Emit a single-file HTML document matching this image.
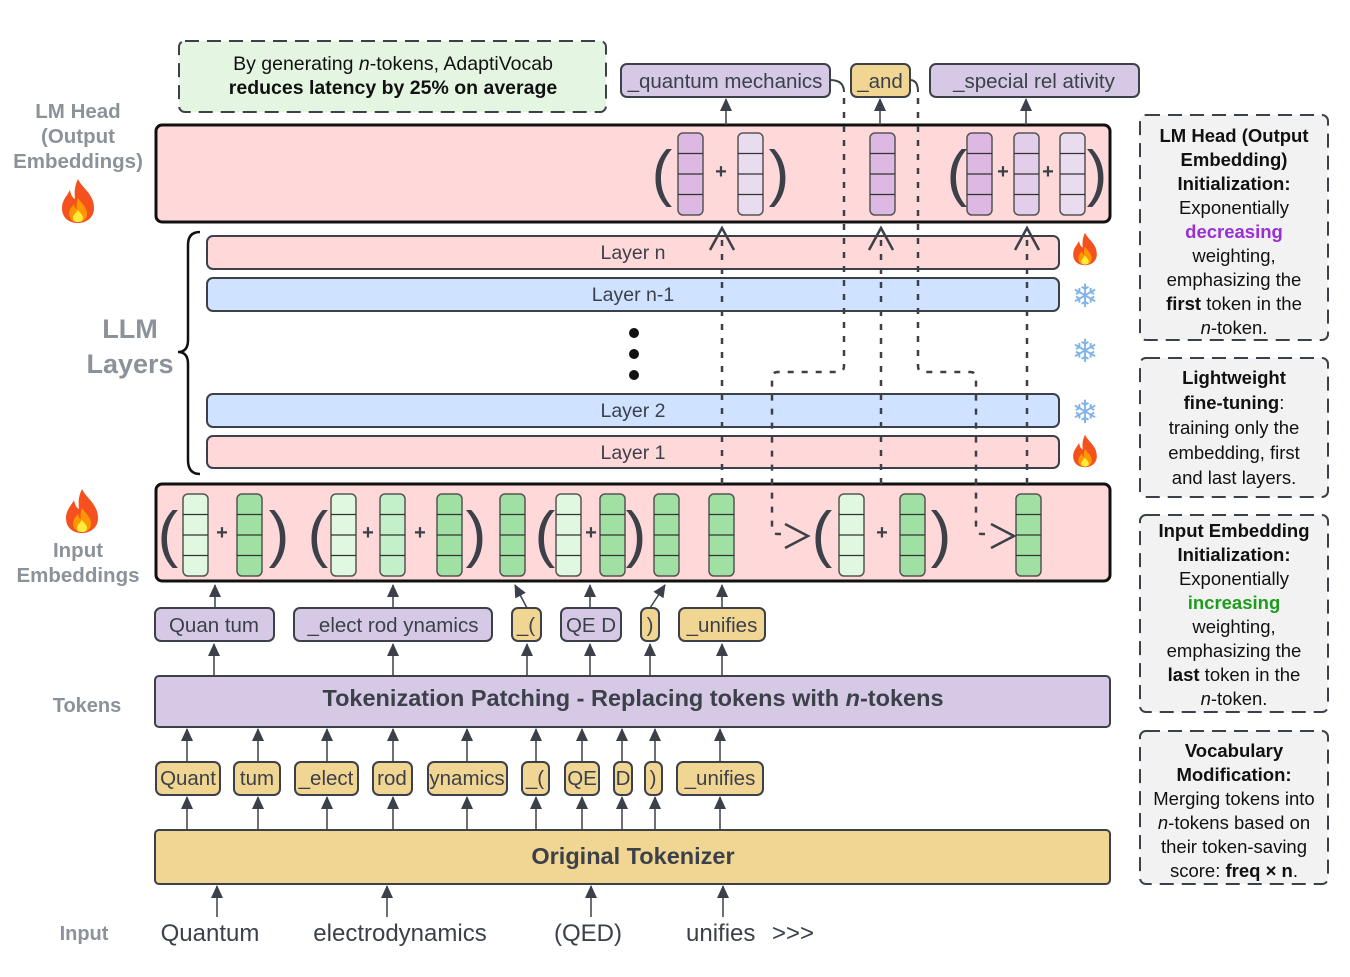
<!DOCTYPE html>
<html><head><meta charset="utf-8">
<style>
html,body{margin:0;padding:0;background:#fff;}
svg{display:block;font-family:"Liberation Sans",Arial,sans-serif;}
.bx{stroke:#3b4049;stroke-width:2;}
.lbl{fill:#8c9299;font-weight:bold;}
.t{fill:#3b4049;}
.ar{stroke:#3b4049;stroke-width:1.5;fill:none;}
.dash{stroke:#3b4049;stroke-width:2.5;fill:none;stroke-dasharray:6,8;}
.par{font-size:62px;fill:#3b4049;}
.plus{font-size:20px;font-weight:bold;fill:#3b4049;}
.side{font-size:18.5px;fill:#111;}
</style></head>
<body>
<svg id="s" width="1350" height="977" viewBox="0 0 1350 977" xmlns="http://www.w3.org/2000/svg">
<defs>
<marker id="ah" markerWidth="13" markerHeight="12" refX="12" refY="6" orient="auto" markerUnits="userSpaceOnUse" viewBox="0 0 13 12">
<path d="M0,0 L13,6 L0,12 Z" fill="#3b4049"/>
</marker>
<symbol id="flame" viewBox="0 0 40 46">
<path d="M20,1 C24,10 36,16 36,30 C36,40 28,45 20,45 C11,45 4,40 4,30 C4,22 9,18 12,12 C13,18 15,20 17,21 C16,13 17,7 20,1 Z" fill="#f4511e"/>
<path d="M20,20 C24,26 29,29 29,36 C29,41 25,44 20,44 C15,44 11,41 11,36 C11,31 14,29 16,26 C17,30 18,31 19,31 C18,27 19,23 20,20 Z" fill="#ff9800"/>
<path d="M20,32 C22,35 25,37 25,40 C25,43 23,44 20,44 C17,44 15,43 15,40 C15,37 18,35 20,32 Z" fill="#ffeb3b"/>
</symbol>
</defs>

<rect x="179" y="41" width="427" height="71" rx="6" fill="#e4f6e2" stroke="#3b4049" stroke-width="2" stroke-dasharray="14,8"/>
<text x="393" y="70" text-anchor="middle" font-size="19.5" fill="#111">By generating <tspan font-style="italic">n</tspan>-tokens, AdaptiVocab</text>
<text x="393" y="94" text-anchor="middle" font-size="19.5" font-weight="bold" fill="#111">reduces latency by 25% on average</text>

<g>
<rect class="bx" x="621" y="64" width="209" height="33" rx="6" fill="#d5c9e6"/>
<text class="t" x="725" y="88" text-anchor="middle" font-size="20.5">_quantum mechanics</text>
<rect class="bx" x="851" y="64" width="59" height="33" rx="6" fill="#f1d593"/>
<text class="t" x="880" y="88" text-anchor="middle" font-size="20.5">_and</text>
<rect class="bx" x="930" y="64" width="209" height="33" rx="6" fill="#d5c9e6"/>
<text class="t" x="1034" y="88" text-anchor="middle" font-size="20.5">_special rel ativity</text>
</g>

<text class="lbl" font-size="20.5" text-anchor="middle"><tspan x="78" y="118">LM Head</tspan><tspan x="78" y="143">(Output</tspan><tspan x="78" y="168">Embeddings)</tspan></text>
<use href="#flame" x="58" y="178" width="40" height="46"/>
<text class="lbl" font-size="27" text-anchor="middle"><tspan x="130" y="338">LLM</tspan><tspan x="130" y="373">Layers</tspan></text>
<path d="M200,232 Q188,232 188,245 L188,340 Q188,352 178,352 Q188,352 188,364 L188,460 Q188,474 200,474" fill="none" stroke="#111" stroke-width="2.5"/>
<use href="#flame" x="62" y="488" width="40" height="46"/>
<text class="lbl" font-size="20.5" text-anchor="middle"><tspan x="78" y="557">Input</tspan><tspan x="78" y="582">Embeddings</tspan></text>
<text class="lbl" font-size="20" x="87" y="712" text-anchor="middle">Tokens</text>
<text class="lbl" font-size="20" x="84" y="940" text-anchor="middle">Input</text>

<rect x="156" y="125" width="954" height="97" rx="6" fill="#ffd9d9" stroke="#111" stroke-width="3"/>

<g>
<rect class="bx" x="207" y="236" width="852" height="33" rx="6" fill="#ffd9d9"/>
<text class="t" x="633" y="259" text-anchor="middle" font-size="19.5">Layer n</text>
<rect class="bx" x="207" y="278" width="852" height="33" rx="6" fill="#cfe2ff"/>
<text class="t" x="633" y="301" text-anchor="middle" font-size="19.5">Layer n-1</text>
<circle cx="634" cy="333" r="5" fill="#111"/><circle cx="634" cy="354" r="5" fill="#111"/><circle cx="634" cy="375" r="5" fill="#111"/>
<rect class="bx" x="207" y="394" width="852" height="33" rx="6" fill="#cfe2ff"/>
<text class="t" x="633" y="417" text-anchor="middle" font-size="19.5">Layer 2</text>
<rect class="bx" x="207" y="436" width="852" height="32" rx="6" fill="#ffd9d9"/>
<text class="t" x="633" y="459" text-anchor="middle" font-size="19.5">Layer 1</text>
</g>
<use href="#flame" x="1070" y="232" width="30" height="34"/>
<use href="#flame" x="1070" y="434" width="30" height="34"/>
<g font-size="32" fill="#7fb3ea" text-anchor="middle">
<text x="1085" y="307">❄</text><text x="1085" y="362">❄</text><text x="1085" y="423">❄</text>
</g>

<rect x="156" y="484" width="954" height="97" rx="6" fill="#ffd9d9" stroke="#111" stroke-width="3"/>

<g id="vecs"></g>

<g>
<path class="dash" d="M722,484 V238"/>
<path class="dash" d="M881,484 V238"/>
<path class="dash" d="M1027,484 V238"/>
<path class="dash" d="M844,98 V366 Q844,372 838,372 H778 Q772,372 772,378 V528 Q772,534 778,534 H784"/>
<path class="dash" d="M918,98 V366 Q918,372 924,372 H970 Q976,372 976,378 V528 Q976,534 982,534 H990"/>
<path d="M830,80 Q844,80 844,92 M910,80 Q918,80 918,92" stroke="#3b4049" stroke-width="2" fill="none"/>
</g>
<g stroke="#3b4049" stroke-width="2.5" fill="none">
<path d="M785,524 L808,536 L785,548"/>
<path d="M991,524 L1014,536 L991,548"/>
</g>
<g stroke="#3b4049" stroke-width="2.5" fill="none">
<path d="M710,250 L722,228 L734,250"/>
<path d="M869,250 L881,228 L893,250"/>
<path d="M1015,250 L1027,228 L1039,250"/>
</g>

<g font-size="20.5">
<rect class="bx" x="155" y="608" width="119" height="33" rx="6" fill="#d5c9e6"/><text class="t" x="214" y="632" text-anchor="middle">Quan tum</text>
<rect class="bx" x="294" y="608" width="198" height="33" rx="6" fill="#d5c9e6"/><text class="t" x="393" y="632" text-anchor="middle">_elect rod ynamics</text>
<rect class="bx" x="512" y="608" width="29" height="33" rx="6" fill="#f1d593"/><text class="t" x="526" y="632" text-anchor="middle">_(</text>
<rect class="bx" x="561" y="608" width="60" height="33" rx="6" fill="#d5c9e6"/><text class="t" x="591" y="632" text-anchor="middle">QE D</text>
<rect class="bx" x="641" y="608" width="18" height="33" rx="6" fill="#f1d593"/><text class="t" x="650" y="632" text-anchor="middle">)</text>
<rect class="bx" x="679" y="608" width="86" height="33" rx="6" fill="#f1d593"/><text class="t" x="722" y="632" text-anchor="middle">_unifies</text>
</g>

<rect x="155" y="676" width="955" height="51" rx="4" fill="#d5c9e6" stroke="#3b4049" stroke-width="2"/>
<text x="633" y="706" text-anchor="middle" font-size="23.5" font-weight="bold" fill="#3b4049">Tokenization Patching - Replacing tokens with <tspan font-style="italic">n</tspan>-tokens</text>

<g font-size="20.5">
<rect class="bx" x="156" y="762" width="64" height="33" rx="6" fill="#f1d593"/><text class="t" x="188" y="785" text-anchor="middle">Quant</text>
<rect class="bx" x="234" y="762" width="46" height="33" rx="6" fill="#f1d593"/><text class="t" x="257" y="785" text-anchor="middle">tum</text>
<rect class="bx" x="295" y="762" width="63" height="33" rx="6" fill="#f1d593"/><text class="t" x="326" y="785" text-anchor="middle">_elect</text>
<rect class="bx" x="373" y="762" width="39" height="33" rx="6" fill="#f1d593"/><text class="t" x="392" y="785" text-anchor="middle">rod</text>
<rect class="bx" x="428" y="762" width="79" height="33" rx="6" fill="#f1d593"/><text class="t" x="467" y="785" text-anchor="middle">ynamics</text>
<rect class="bx" x="522" y="762" width="27" height="33" rx="6" fill="#f1d593"/><text class="t" x="535" y="785" text-anchor="middle">_(</text>
<rect class="bx" x="565" y="762" width="34" height="33" rx="6" fill="#f1d593"/><text class="t" x="582" y="785" text-anchor="middle">QE</text>
<rect class="bx" x="614" y="762" width="18" height="33" rx="6" fill="#f1d593"/><text class="t" x="623" y="785" text-anchor="middle">D</text>
<rect class="bx" x="645" y="762" width="17" height="33" rx="6" fill="#f1d593"/><text class="t" x="653" y="785" text-anchor="middle">)</text>
<rect class="bx" x="677" y="762" width="86" height="33" rx="6" fill="#f1d593"/><text class="t" x="720" y="785" text-anchor="middle">_unifies</text>
</g>

<rect x="155" y="830" width="955" height="54" rx="4" fill="#f1d593" stroke="#3b4049" stroke-width="2"/>
<text x="633" y="864" text-anchor="middle" font-size="23.5" font-weight="bold" fill="#3b4049">Original Tokenizer</text>

<g font-size="24" fill="#3b4049">
<text x="210" y="941" text-anchor="middle">Quantum</text>
<text x="400" y="941" text-anchor="middle">electrodynamics</text>
<text x="588" y="941" text-anchor="middle">(QED)</text>
<text x="686" y="941">unifies <tspan x="772">&gt;&gt;&gt;</tspan></text>
</g>

<g id="arrows"></g>

<g>
<rect x="1140" y="115" width="188" height="225" rx="6" fill="#f2f2f2" stroke="#3b4049" stroke-width="2" stroke-dasharray="14,8"/>
<text class="side" text-anchor="middle"><tspan x="1234" y="142" font-weight="bold">LM Head (Output</tspan><tspan x="1234" y="166" font-weight="bold">Embedding)</tspan><tspan x="1234" y="190" font-weight="bold">Initialization:</tspan><tspan x="1234" y="214">Exponentially</tspan><tspan x="1234" y="238" font-weight="bold" fill="#9a2fd6">decreasing</tspan><tspan x="1234" y="262">weighting,</tspan><tspan x="1234" y="286">emphasizing the</tspan><tspan x="1234" y="310"><tspan font-weight="bold">first</tspan> token in the</tspan><tspan x="1234" y="334"><tspan font-style="italic">n</tspan>-token.</tspan></text>
<rect x="1140" y="358" width="188" height="139" rx="6" fill="#f2f2f2" stroke="#3b4049" stroke-width="2" stroke-dasharray="14,8"/>
<text class="side" text-anchor="middle"><tspan x="1234" y="384" font-weight="bold">Lightweight</tspan><tspan x="1234" y="409"><tspan font-weight="bold">fine-tuning</tspan>:</tspan><tspan x="1234" y="434">training only the</tspan><tspan x="1234" y="459">embedding, first</tspan><tspan x="1234" y="484">and last layers.</tspan></text>
<rect x="1140" y="515" width="188" height="197" rx="6" fill="#f2f2f2" stroke="#3b4049" stroke-width="2" stroke-dasharray="14,8"/>
<text class="side" text-anchor="middle"><tspan x="1234" y="537" font-weight="bold">Input Embedding</tspan><tspan x="1234" y="561" font-weight="bold">Initialization:</tspan><tspan x="1234" y="585">Exponentially</tspan><tspan x="1234" y="609" font-weight="bold" fill="#1e9c1e">increasing</tspan><tspan x="1234" y="633">weighting,</tspan><tspan x="1234" y="657">emphasizing the</tspan><tspan x="1234" y="681"><tspan font-weight="bold">last</tspan> token in the</tspan><tspan x="1234" y="705"><tspan font-style="italic">n</tspan>-token.</tspan></text>
<rect x="1140" y="731" width="188" height="153" rx="6" fill="#f2f2f2" stroke="#3b4049" stroke-width="2" stroke-dasharray="14,8"/>
<text class="side" text-anchor="middle"><tspan x="1234" y="757" font-weight="bold">Vocabulary</tspan><tspan x="1234" y="781" font-weight="bold">Modification:</tspan><tspan x="1234" y="805">Merging tokens into</tspan><tspan x="1234" y="829"><tspan font-style="italic">n</tspan>-tokens based on</tspan><tspan x="1234" y="853">their token-saving</tspan><tspan x="1234" y="877">score: <tspan font-weight="bold">freq × n</tspan>.</tspan></text>
</g>
</svg>
<script>
var NS="http://www.w3.org/2000/svg";
var vecs=document.getElementById('vecs');
function vec(x,y,fill){
  var g=document.createElementNS(NS,'g');
  
  
  var r=document.createElementNS(NS,'rect');
  r.setAttribute('x',x);r.setAttribute('y',y);r.setAttribute('width',25);r.setAttribute('height',82);
  r.setAttribute('rx',5);r.setAttribute('fill',fill);r.setAttribute('stroke','#555');r.setAttribute('stroke-width','1.5');
  g.appendChild(r);
  for(var i=1;i<4;i++){var l=document.createElementNS(NS,'line');
    l.setAttribute('x1',x);l.setAttribute('x2',x+25);l.setAttribute('y1',y+i*20.5);l.setAttribute('y2',y+i*20.5);
    l.setAttribute('stroke','#333');l.setAttribute('stroke-width','1.3');g.appendChild(l);}
  vecs.appendChild(g);
}
function txt(x,y,s,cls){
  var t=document.createElementNS(NS,'text');
  
  
  t.setAttribute('x',x);t.setAttribute('y',y);t.setAttribute('class',cls);t.setAttribute('text-anchor','middle');
  t.textContent=s;vecs.appendChild(t);
}
var P1='#dcb8e3',P2='#e2cdea',P3='#eadcef',G1='#e0f7e0',G2='#c3f0c8',G3='#a0e0a2';
[[678,P1],[738,P3],[870,P1],[967,P1],[1014,P2],[1060,P3]].forEach(function(v){vec(v[0],133,v[1]);});
[[662,'('],[779,')'],[957,'('],[1097,')']].forEach(function(p){txt(p[0],194,p[1],'par');});
[721,1003,1048].forEach(function(x){txt(x,178,'+','plus');});
[[183,G1],[237,G3],[331,G1],[380,G2],[437,G3],[500,G3],[556,G1],[600,G3],[654,G3],[709,G3],[839,G1],[900,G3],[1016,G3]].forEach(function(v){vec(v[0],494,v[1]);});
[[168,'('],[279,')'],[318,'('],[476,')'],[545,'('],[636,')'],[822,'('],[941,')']].forEach(function(p){txt(p[0],555,p[1],'par');});
[222,368,420,591,882].forEach(function(x){txt(x,539,'+','plus');});
var ar=document.getElementById('arrows');
function arrow(x1,y1,x2,y2){
  var l=document.createElementNS(NS,'line');
  
  
  l.setAttribute('x1',x1);l.setAttribute('y1',y1);l.setAttribute('x2',x2);l.setAttribute('y2',y2);
  l.setAttribute('stroke','#3b4049');l.setAttribute('stroke-width','1.5');l.setAttribute('marker-end','url(#ah)');
  ar.appendChild(l);
}
arrow(726,125,726,99);arrow(880,125,880,99);arrow(1026,125,1026,99);
[[215,608,215,585],[393,608,393,585],[527,608,515,585],[590,608,590,585],[650,608,665,585],[722,608,722,585]].forEach(function(a){arrow(a[0],a[1],a[2],a[3]);});
[214,393,527,590,650,722].forEach(function(x){arrow(x,676,x,644);});
[187,258,327,393,467,536,582,622,655,720].forEach(function(x){arrow(x,762,x,729);arrow(x,830,x,797);});
[217,387,591,723].forEach(function(x){arrow(x,917,x,886);});
</script>
</body></html>
